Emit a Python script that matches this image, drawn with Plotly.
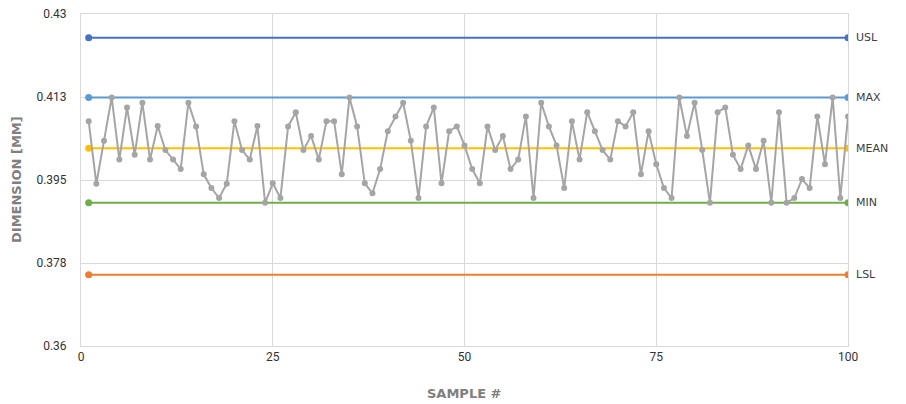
import plotly.graph_objects as go

samples = list(range(1, 101))
dimension = [
    0.4074, 0.3942, 0.4033, 0.4124, 0.3993, 0.4103, 0.4003, 0.4113, 0.3993, 0.4064,
    0.4013, 0.3993, 0.3973, 0.4113, 0.4063, 0.3962, 0.3933, 0.3912, 0.3942, 0.4074,
    0.4013, 0.3993, 0.4064, 0.3902, 0.3943, 0.3912, 0.4063, 0.4093, 0.4013, 0.4043,
    0.3993, 0.4074, 0.4074, 0.3962, 0.4124, 0.4063, 0.3943, 0.3922, 0.3973, 0.4053,
    0.4084, 0.4113, 0.4033, 0.3912, 0.4063, 0.4103, 0.3943, 0.4053, 0.4063, 0.4023,
    0.3973, 0.3943, 0.4063, 0.4013, 0.4043, 0.3973, 0.3993, 0.4084, 0.3912, 0.4113,
    0.4063, 0.4023, 0.3933, 0.4074, 0.3993, 0.4093, 0.4053, 0.4013, 0.3993, 0.4074,
    0.4063, 0.4093, 0.3962, 0.4053, 0.3983, 0.3933, 0.3912, 0.4124, 0.4043, 0.4113,
    0.4013, 0.3902, 0.4093, 0.4103, 0.4003, 0.3973, 0.4023, 0.3973, 0.4033, 0.3902,
    0.4093, 0.3902, 0.3912, 0.3952, 0.3933, 0.4084, 0.3983, 0.4124, 0.3912, 0.4084,
]

limit_names = ["USL", "MAX", "MEAN", "MIN", "LSL"]
limit_values = [0.425, 0.4124, 0.4017, 0.3902, 0.375]
limit_colors = ["#4472C4", "#5B9BD5", "#FFC000", "#70AD47", "#ED7D31"]
limit_x = [1, 100]

y_tickvals = [0.36, 0.3775, 0.395, 0.4125, 0.43]
y_ticktext = ["0.36", "0.378", "0.395", "0.413", "0.43"]
x_tickvals = [0, 25, 50, 75, 100]

fig = go.Figure()

for name, val, col in zip(limit_names, limit_values, limit_colors):
    fig.add_trace(go.Scatter(
        x=limit_x, y=[val, val], mode="lines+markers", name=name,
        line=dict(color=col, width=2), marker=dict(color=col, size=7),
        showlegend=False, hoverinfo="skip",
    ))

fig.add_trace(go.Scatter(
    x=samples, y=dimension, mode="lines+markers", name="Dimension",
    line=dict(color="#A5A5A5", width=2), marker=dict(color="#A5A5A5", size=6),
    showlegend=False,
))

for name, val in zip(limit_names, limit_values):
    fig.add_annotation(
        x=1, xref="paper", y=val, yref="y", text=name, showarrow=False,
        xanchor="left", xshift=6,
        font=dict(family="DejaVu Sans", size=11, color="#404040"),
    )

fig.add_annotation(
    x=0, xref="paper", y=0.5, yref="paper", text="<b>DIMENSION [MM]</b>",
    showarrow=False, textangle=-90, xanchor="center", yanchor="middle", xshift=-65,
    font=dict(family="DejaVu Sans", size=13, color="#7F7F7F"),
)
fig.add_annotation(
    x=0.5, xref="paper", y=0, yref="paper", text="<b>SAMPLE #</b>",
    showarrow=False, xanchor="center", yanchor="middle", yshift=-47,
    font=dict(family="DejaVu Sans", size=13, color="#7F7F7F"),
)

grid = "#D9D9D9"
fig.update_layout(
    width=898, height=396,
    margin=dict(l=73, r=58, t=6, b=58),
    paper_bgcolor="white", plot_bgcolor="white",
    font=dict(family="Roboto", size=12, color="#333333"),
    xaxis=dict(
        range=[0, 100], tickvals=x_tickvals, showgrid=True, gridcolor=grid,
        gridwidth=1, showline=True, linecolor=grid, mirror=True, zeroline=False,
        ticks="", automargin=False, ticklabelstandoff=0, ticklabeloverflow="allow",
        tickfont=dict(family="Roboto", size=12, color="#333333"),
    ),
    yaxis=dict(
        range=[0.36, 0.43], tickvals=y_tickvals, ticktext=y_ticktext, showgrid=True,
        gridcolor=grid, gridwidth=1, showline=True, linecolor=grid, mirror=True,
        zeroline=False, ticks="", ticklabelstandoff=11, automargin=False,
        ticklabeloverflow="allow",
        tickfont=dict(family="Roboto", size=12, color="#333333"),
    ),
)

fig.write_html("out.html")
